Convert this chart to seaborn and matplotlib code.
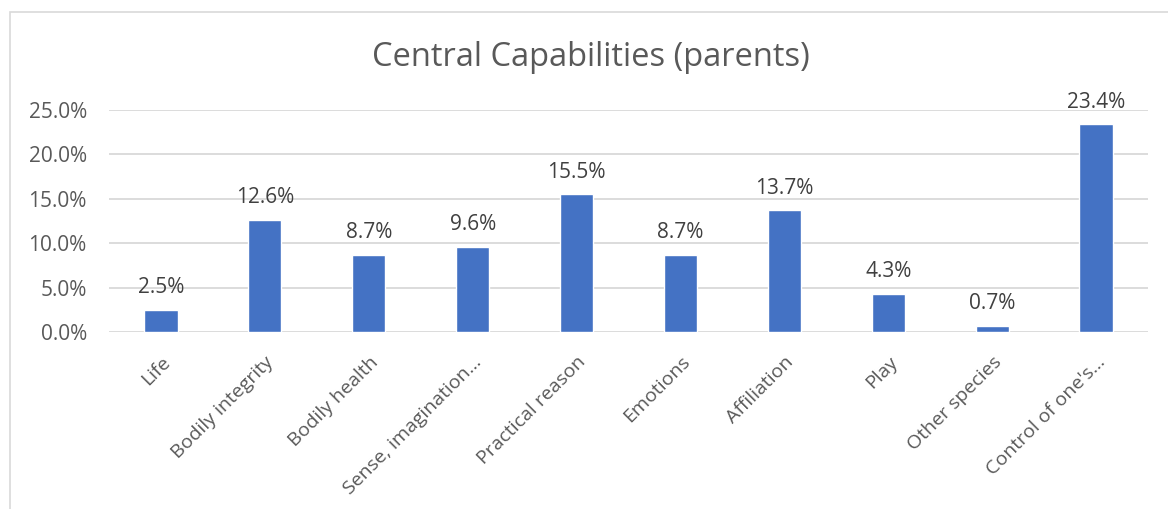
import matplotlib
matplotlib.use("Agg")
import matplotlib.pyplot as plt
import seaborn as sns
import pandas as pd
from matplotlib.patches import Rectangle
from matplotlib.ticker import FuncFormatter

categories = ["Life", "Bodily integrity", "Bodily health", "Sense, imagination\u2026",
              "Practical reason", "Emotions", "Affiliation", "Play",
              "Other species", "Control of one's\u2026"]
shares = [0.025, 0.126, 0.087, 0.096, 0.155, 0.087, 0.137, 0.043, 0.007, 0.234]
y_ticks = [0.0, 0.05, 0.10, 0.15, 0.20, 0.25]

sns.set_theme(style="white")
plt.rcParams["font.family"] = ["Open Sans", "DejaVu Sans"]

text_color = "#595959"
bar_color = "#4472C4"
grid_color = "#D9D9D9"
label_size = 15

df = pd.DataFrame({"category": categories, "share": shares})

fig = plt.figure(figsize=(11.68, 5.09), dpi=100)
fig.patches.append(Rectangle((10 / 1168, -0.1), 1.2, 1 - 12 / 509 + 0.1,
                             transform=fig.transFigure, fill=False,
                             edgecolor=grid_color, linewidth=1.2))
ax = fig.add_axes([109 / 1168, 1 - 332 / 509, (1148 - 109) / 1168, (332 - 110) / 509])

sns.barplot(data=df, x="category", y="share", color=bar_color, width=0.32,
            saturation=1, ax=ax, zorder=3)

ax.set_ylim(0, 0.25)
ax.set_yticks(y_ticks)
ax.yaxis.set_major_formatter(FuncFormatter(lambda v, _: f"{v * 100:.1f}%"))
ax.set_xlim(-0.5, len(categories) - 0.5)
for y in y_ticks:
    ax.axhline(y, color=grid_color, linewidth=1.3, zorder=1)

for sp in ax.spines.values():
    sp.set_visible(False)

ax.set_xlabel("")
ax.set_ylabel("")
ax.tick_params(axis="y", length=0, pad=16, labelsize=label_size, labelcolor=text_color)
ax.tick_params(axis="x", length=0, pad=15, labelsize=14, labelcolor=text_color)
plt.setp(ax.get_xticklabels(), rotation=45, ha="right", rotation_mode="anchor")

for i, v in enumerate(shares):
    ax.annotate(f"{v * 100:.1f}%", (i, v), xytext=(0, 12), textcoords="offset points",
                ha="center", va="baseline", fontsize=label_size, color="#404040")

fig.text(0.506, 1 - 58 / 509, "Central Capabilities (parents)", ha="center",
         va="center", fontsize=23.5, color=text_color)

fig.savefig("out.png", dpi=100)
